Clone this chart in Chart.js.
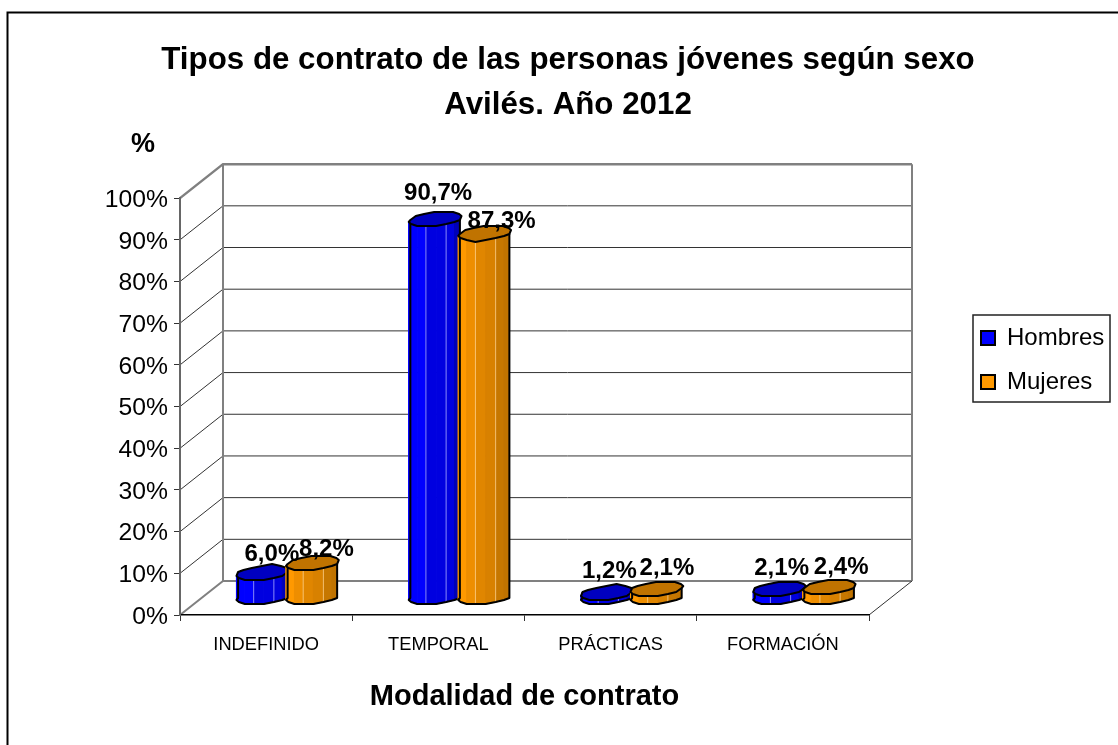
<!DOCTYPE html>
<html><head><meta charset="utf-8">
<style>html,body{margin:0;padding:0;background:#fff}canvas{display:block}</style>
<script src="https://cdn.jsdelivr.net/npm/chart.js@4"></script>
</head><body><div style="width:1118px;height:745px"><canvas id="c" width="1118" height="745"></canvas></div>
<script>
const categories = ['INDEFINIDO','TEMPORAL','PRÁCTICAS','FORMACIÓN'];
const hombres = [6.0,90.7,1.2,2.1];
const mujeres = [8.2,87.3,2.1,2.4];
const yTicks = [0,10,20,30,40,50,60,70,80,90,100];
const FF = '"Liberation Sans",Arial,sans-serif';
const DEPTH = {x:43,y:34};
const MID = {x:21.5,y:17.5};
const SHADES = [
  ['#0000ff','#0000ff','#0000ff','#0000ff','#0000e0','#0000e0','#0000e0','#0000b8'],
  ['#ff9900','#ff9900','#ff9900','#ee8e00','#e08600','#d88100','#c67700','#c07300']
];
const HILITE = ['rgba(170,170,255,.8)','rgba(255,210,140,.8)'];
const CAP = ['#0000c0','#c07300'];
const labelNudge = [[[9,-11],[3,-19],[2,-14],[2,-14]],[[14,-7],[17,-6],[10,-14],[12,-13]]];
const fmt = v => v.toFixed(1).replace('.',',')+'%';
function capPts(cx,cy,a,N){
  const pts=[];
  for(let i=0;i<N;i++){
    const t=Math.PI-i*2*Math.PI/N;
    pts.push([cx+a*Math.cos(t)-9.2*Math.sin(t), Math.round((cy+7.5*Math.sin(t))/2)*2]);
  }
  return pts;
}
const scene = {
  id:'scene',
  afterLayout(chart){
    const tb=chart.titleBlock; tb.left=18; tb.right=1118; tb.width=1100;
    const lg=chart.legend; lg.left=961; lg.right=1118; lg.top=306; lg.bottom=430; lg.width=157; lg.height=124;
    if(lg.adjustHitBoxes) lg.adjustHitBoxes();
  },
  beforeDraw(chart){
    const c=chart.ctx, y=chart.scales.y, a=chart.chartArea;
    c.save();
    c.fillStyle='#fff'; c.fillRect(0,0,1118,745);
    c.strokeStyle='#000'; c.lineWidth=2;
    c.beginPath(); c.moveTo(7.5,745); c.lineTo(7.5,12.5); c.lineTo(1118,12.5); c.stroke();
    const L=a.left,R=a.right;
    yTicks.forEach(v=>{
      const p=y.getPixelForValue(v);
      const edge=(v===0||v===100);
      c.strokeStyle=edge?'#808080':'#333'; c.lineWidth=edge?(v===100?2.5:2):1;
      c.beginPath(); c.moveTo(L,p); c.lineTo(L+DEPTH.x,p-DEPTH.y); c.lineTo(R+DEPTH.x,p-DEPTH.y); c.stroke();
    });
    c.strokeStyle='#808080'; c.lineWidth=2;
    c.beginPath(); c.moveTo(L+DEPTH.x,y.getPixelForValue(100)-DEPTH.y); c.lineTo(L+DEPTH.x,y.getPixelForValue(0)-DEPTH.y); c.stroke();
    c.beginPath(); c.moveTo(R+DEPTH.x,y.getPixelForValue(100)-DEPTH.y); c.lineTo(R+DEPTH.x,y.getPixelForValue(0)-DEPTH.y); c.stroke();
    c.strokeStyle='#333'; c.lineWidth=1;
    c.beginPath(); c.moveTo(R,a.bottom); c.lineTo(R+DEPTH.x,a.bottom-DEPTH.y); c.stroke();
    c.restore();
  },
  beforeDatasetDraw(){ return false; },
  beforeDatasetsDraw(chart){
    const c=chart.ctx;
    chart.data.datasets.forEach((ds,di)=>{
      chart.getDatasetMeta(di).data.forEach(b=>{
        const r=b.width/2, cx=b.x+MID.x, top=b.y-MID.y, base=b.base-MID.y, N=16;
        const T=capPts(cx,top,r,N), B=capPts(cx,base,r,N);
        c.save(); c.lineJoin='round';
        for(let i=0;i<N/2;i++){ // front half, left to right
          const k=i+1;
          c.beginPath();
          c.moveTo(T[i][0],T[i][1]); c.lineTo(T[k][0],T[k][1]); c.lineTo(B[k][0],B[k][1]); c.lineTo(B[i][0],B[i][1]); c.closePath();
          c.fillStyle=SHADES[di][i]; c.strokeStyle=SHADES[di][i]; c.lineWidth=1; c.fill(); c.stroke();
        }
        c.strokeStyle=HILITE[di]; c.lineWidth=1;
        [4,6].forEach(i=>{c.beginPath();c.moveTo(T[i][0],T[i][1]);c.lineTo(B[i][0],B[i][1]);c.stroke();});
        c.strokeStyle='#000'; c.lineWidth=2;
        c.beginPath();
        c.moveTo(T[0][0],T[0][1]);
        for(let i=0;i<=N/2;i++){c.lineTo(B[i][0],B[i][1]);}
        c.lineTo(T[N/2][0],T[N/2][1]);
        c.stroke();
        c.beginPath(); T.forEach((p,i)=>i?c.lineTo(p[0],p[1]):c.moveTo(p[0],p[1])); c.closePath();
        c.fillStyle=CAP[di]; c.fill(); c.stroke();
        c.restore();
      });
    });
  },
  afterDatasetsDraw(chart){
    const c=chart.ctx;
    c.save(); c.fillStyle='#000'; c.font='bold 24px '+FF; c.textAlign='center'; c.textBaseline='alphabetic';
    chart.data.datasets.forEach((ds,di)=>{
      chart.getDatasetMeta(di).data.forEach((b,i)=>{
        const n=labelNudge[di][i];
        c.fillText(fmt(ds.data[i]), b.x+MID.x+n[0], b.y-MID.y+n[1]);
      });
    });
    c.font='bold 27px '+FF;
    c.fillText('%',143,152);
    c.restore();
  },
  afterDraw(chart){
    const c=chart.ctx;
    c.save(); c.strokeStyle='#222'; c.lineWidth=1.5; c.strokeRect(973,315,137,87); c.restore();
  }
};
new Chart(document.getElementById('c'),{
  type:'bar',
  data:{labels:categories,datasets:[
    {label:'Hombres',data:hombres,backgroundColor:'#0000ff',borderColor:'#000',borderWidth:2},
    {label:'Mujeres',data:mujeres,backgroundColor:'#ff9900',borderColor:'#000',borderWidth:2}
  ]},
  plugins:[scene],
  options:{
    responsive:false,animation:false,
    layout:{padding:{left:0,right:249,top:0,bottom:0}},
    datasets:{bar:{categoryPercentage:0.575,barPercentage:1}},
    plugins:{
      tooltip:{enabled:false},
      title:{display:true,text:['Tipos de contrato de las personas jóvenes según sexo','Avilés. Año 2012'],
        color:'#000',font:{family:FF,size:31.3,weight:'bold',lineHeight:1.44},padding:{top:37.5,bottom:70.5}},
      legend:{display:true,position:'chartArea',align:'start',
        labels:{color:'#000',font:{family:FF,size:24},boxWidth:14,boxHeight:14,padding:20}}
    },
    scales:{
      x:{type:'category',
        afterFit(s){s.height=130;},
        grid:{drawOnChartArea:false,drawTicks:true,tickLength:6,color:'#333',offset:true},
        border:{display:true,color:'#000',width:1.5},
        ticks:{color:'#000',font:{family:FF,size:18.3},padding:13,maxRotation:0,autoSkip:false},
        title:{display:true,text:'Modalidad de contrato',color:'#000',font:{family:FF,size:29,weight:'bold',lineHeight:1.2},padding:{top:0,bottom:31}}
      },
      y:{min:0,max:100,
        afterFit(s){s.width=180;},
        afterBuildTicks(s){s.ticks=yTicks.map(v=>({value:v}));},
        grid:{drawOnChartArea:false,drawTicks:true,tickLength:6,color:'#333'},
        border:{display:true,color:'#666',width:2},
        ticks:{color:'#000',font:{family:FF,size:24.7},padding:6,labelOffset:2,callback:v=>v+'%',autoSkip:false}
      }
    }
  }
});
</script></body></html>
